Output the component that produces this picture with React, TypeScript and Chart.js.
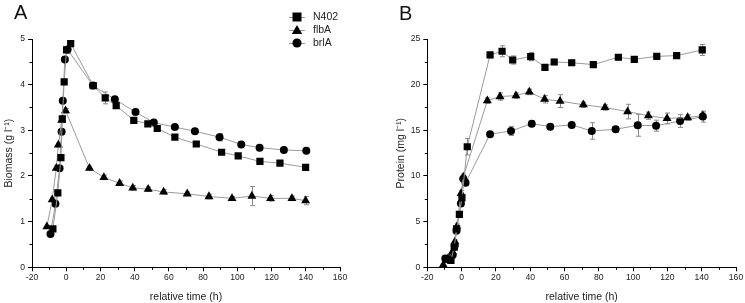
import React, { useEffect, useRef } from "react";
import { Chart, registerables } from "chart.js";

Chart.register(...registerables);

const seriesNames = ["N402", "flbA", "brlA"];
const pointStyles = ["rect", "triangle", "circle"];

// Panel A: biomass (g l-1)
const bioTimeN402 = [-7.8, -4.9, -3.1, -2.3, -1.2, 0.2, 2.6, 15.8, 22.8, 29.2, 39.5, 47.7, 53.2, 63.5, 76.0, 90.8, 100.5, 113.2, 124.9, 139.9];
const bioN402 = [0.84, 1.63, 2.4, 3.25, 4.06, 4.76, 4.9, 3.98, 3.71, 3.54, 3.22, 3.14, 3.04, 2.85, 2.7, 2.52, 2.44, 2.32, 2.28, 2.19];
const bioN402Err = [0.03, 0.04, 0.05, 0.05, 0.05, 0.04, 0.03, 0.05, 0.13, 0.04, 0.04, 0.03, 0.03, 0.04, 0.03, 0.03, 0.03, 0.03, 0.03, 0.03];

const bioTimeFlbA = [-11.3, -8.2, -5.8, -4.6, -2.6, -0.4, 13.6, 22.0, 31.2, 38.9, 47.9, 56.9, 70.7, 83.4, 96.9, 108.5, 119.4, 131.9, 139.9];
const bioFlbA = [0.89, 1.48, 2.17, 2.68, 3.22, 3.43, 2.17, 1.97, 1.84, 1.74, 1.71, 1.65, 1.61, 1.55, 1.51, 1.56, 1.51, 1.51, 1.46];
const bioFlbAErr = [0.03, 0.04, 0.05, 0.04, 0.05, 0.05, 0.04, 0.05, 0.05, 0.05, 0.05, 0.05, 0.04, 0.05, 0.04, 0.21, 0.06, 0.05, 0.09];

const bioTimeBrlA = [-9.2, -6.3, -3.9, -2.7, -2.0, -0.8, 0.8, 15.6, 28.4, 40.5, 51.2, 63.5, 75.2, 89.6, 102.3, 113.0, 127.2, 140.3];
const bioBrlA = [0.73, 1.39, 2.17, 2.97, 3.65, 4.55, 4.77, 3.98, 3.68, 3.4, 3.17, 3.07, 2.98, 2.85, 2.69, 2.62, 2.57, 2.55];
const bioBrlAErr = [0.02, 0.03, 0.04, 0.04, 0.04, 0.04, 0.03, 0.04, 0.04, 0.04, 0.03, 0.04, 0.03, 0.08, 0.03, 0.03, 0.03, 0.04];

// Panel B: protein (mg l-1)
const protTimeN402 = [-9.0, -6.2, -4.3, -2.9, -1.3, 0.2, 3.3, 16.6, 23.6, 29.8, 40.3, 48.6, 54.0, 64.2, 76.8, 91.4, 100.7, 113.8, 125.4, 140.3];
const protN402 = [0.9, 0.75, 2.2, 4.2, 5.8, 7.6, 13.2, 23.25, 23.66, 22.7, 23.07, 21.9, 22.48, 22.4, 22.2, 23.0, 22.78, 23.1, 23.18, 23.8];
const protN402Err = [0.1, 0.1, 0.2, 0.2, 0.3, 0.3, 0.9, 0.3, 0.6, 0.45, 0.45, 0.3, 0.3, 0.3, 0.3, 0.3, 0.3, 0.3, 0.3, 0.6];

const protTimeFlbA = [-10.7, -8.0, -5.3, -3.9, -2.8, -0.3, 1.0, 15.0, 22.4, 31.7, 39.5, 48.4, 57.4, 71.0, 83.6, 96.8, 108.9, 119.8, 131.8, 140.6];
const protFlbA = [0.25, 0.95, 1.7, 2.8, 4.45, 8.1, 9.9, 18.25, 18.7, 18.8, 19.2, 18.4, 18.2, 17.8, 17.5, 17.05, 16.6, 16.3, 16.4, 16.6];
const protFlbAErr = [0.1, 0.1, 0.2, 0.2, 0.3, 0.3, 0.3, 0.3, 0.4, 0.3, 0.3, 0.4, 0.7, 0.3, 0.3, 0.8, 0.4, 0.6, 0.3, 0.4];

const protTimeBrlA = [-9.5, -7.0, -5.2, -4.0, -3.0, -0.4, 1.0, 2.3, 16.6, 28.8, 40.9, 51.7, 64.2, 75.9, 89.8, 102.7, 113.4, 127.4, 140.6];
const protBrlA = [0.95, 0.8, 1.35, 2.4, 4.0, 7.0, 9.7, 9.25, 14.57, 14.93, 15.73, 15.4, 15.59, 14.93, 15.11, 15.55, 15.51, 16.02, 16.5];
const protBrlAErr = [0.1, 0.1, 0.2, 0.2, 0.3, 0.3, 0.3, 0.3, 0.3, 0.5, 0.3, 0.3, 0.3, 0.9, 0.3, 1.2, 0.6, 0.7, 0.6];

const FONT = "'Liberation Sans', Arial, sans-serif";
const LINE_COLOR = "#9a9a9a";
const pointRadii = [5.1, 5.2, 4.0];

function toPoints(xs: number[], ys: number[]) {
  return xs.map((x, i) => ({ x, y: ys[i] }));
}

function makeDatasets(times: number[][], values: number[][], errs: number[][]) {
  return seriesNames.map((name, i) => ({
    label: name,
    data: toPoints(times[i], values[i]),
    errors: errs[i],
    showLine: true,
    borderColor: LINE_COLOR,
    borderWidth: 1,
    backgroundColor: "#000",
    pointBackgroundColor: "#000",
    pointBorderColor: "#000",
    pointBorderWidth: 0,
    pointStyle: pointStyles[i],
    pointRadius: pointRadii[i],
    pointHoverRadius: pointRadii[i],
  }));
}

const errorBarPlugin = {
  id: "errorBars",
  beforeDatasetsDraw(chart: any) {
    const { ctx } = chart;
    const xs = chart.scales.x;
    const ys = chart.scales.y;
    ctx.save();
    ctx.strokeStyle = "#8a8a8a";
    ctx.lineWidth = 1;
    chart.data.datasets.forEach((ds: any) => {
      const errs = ds.errors;
      if (!errs) return;
      ds.data.forEach((p: any, i: number) => {
        const e = errs[i];
        if (!e) return;
        const px = Math.round(xs.getPixelForValue(p.x)) + 0.5;
        const y1 = ys.getPixelForValue(p.y - e);
        const y2 = ys.getPixelForValue(p.y + e);
        ctx.beginPath();
        ctx.moveTo(px, y1);
        ctx.lineTo(px, y2);
        ctx.moveTo(px - 2.5, y1);
        ctx.lineTo(px + 2.5, y1);
        ctx.moveTo(px - 2.5, y2);
        ctx.lineTo(px + 2.5, y2);
        ctx.stroke();
      });
    });
    ctx.restore();
  },
};

const minorTickPlugin = {
  id: "minorTicks",
  afterDraw(chart: any) {
    const { ctx, chartArea } = chart;
    const xs = chart.scales.x;
    const ys = chart.scales.y;
    ctx.save();
    ctx.strokeStyle = "#000";
    ctx.lineWidth = 1;
    ctx.beginPath();
    xs.ticks.forEach((t: any) => {
      if (t.label !== "") return;
      const px = Math.round(xs.getPixelForValue(t.value)) + 0.5;
      ctx.moveTo(px, chartArea.bottom);
      ctx.lineTo(px, chartArea.bottom + 2.5);
    });
    ys.ticks.forEach((t: any) => {
      if (t.label !== "") return;
      const py = Math.round(ys.getPixelForValue(t.value)) + 0.5;
      ctx.moveTo(chartArea.left, py);
      ctx.lineTo(chartArea.left - 2.5, py);
    });
    ctx.stroke();
    ctx.restore();
  },
};

function drawMarker(ctx: CanvasRenderingContext2D, style: string, x: number, y: number) {
  ctx.beginPath();
  if (style === "rect") {
    ctx.rect(x - 4.5, y - 4.5, 9, 9);
  } else if (style === "triangle") {
    ctx.moveTo(x, y - 5);
    ctx.lineTo(x + 5.2, y + 4);
    ctx.lineTo(x - 5.2, y + 4);
    ctx.closePath();
  } else {
    ctx.arc(x, y, 4.6, 0, Math.PI * 2);
  }
  ctx.fill();
}

const lineLegendPlugin = {
  id: "lineLegend",
  afterDraw(chart: any, _args: any, opts: any) {
    if (!opts || !opts.show) return;
    const { ctx, chartArea } = chart;
    const x0 = chartArea.right - 51;
    const y0 = chartArea.top - 22;
    ctx.save();
    chart.data.datasets.forEach((ds: any, i: number) => {
      const y = y0 + i * 13;
      ctx.strokeStyle = LINE_COLOR;
      ctx.lineWidth = 1;
      ctx.beginPath();
      ctx.moveTo(x0, y + 0.5);
      ctx.lineTo(x0 + 16, y + 0.5);
      ctx.stroke();
      ctx.fillStyle = "#000";
      drawMarker(ctx, ds.pointStyle, x0 + 8, y);
      ctx.fillStyle = "#222";
      ctx.font = `10.5px ${FONT}`;
      ctx.textBaseline = "middle";
      ctx.textAlign = "left";
      ctx.fillText(ds.label, x0 + 24, y + 0.5);
    });
    ctx.restore();
  },
};

function makeConfig(opts: {
  datasets: any[];
  yMax: number;
  yStep: number;
  yMajor: number;
  yTitle: string;
  yAxisWidth: number;
  yTitlePad: number;
  rightPad: number;
  legend: boolean;
}): any {
  const tickFont = { family: FONT, size: 8.6 };
  const titleFont = { family: FONT, size: 10.5 };
  return {
    type: "scatter",
    data: { datasets: opts.datasets },
    plugins: [errorBarPlugin, minorTickPlugin, lineLegendPlugin],
    options: {
      animation: false,
      responsive: false,
      maintainAspectRatio: false,
      events: [],
      layout: { padding: { top: 39, right: opts.rightPad, left: 0, bottom: 0 } },
      plugins: {
        legend: { display: false },
        tooltip: { enabled: false },
        lineLegend: { show: opts.legend },
      },
      scales: {
        x: {
          type: "linear",
          min: -20,
          max: 160,
          ticks: {
            stepSize: 10,
            autoSkip: false,
            maxRotation: 0,
            padding: 1,
            color: "#222",
            font: tickFont,
            callback: (v: number) => (v % 20 === 0 ? String(v) : ""),
          },
          grid: {
            drawOnChartArea: false,
            drawTicks: true,
            tickLength: 4,
            tickWidth: 1,
            tickColor: (c: any) => (c.tick && c.tick.label === "" ? "rgba(0,0,0,0)" : "#000"),
          },
          border: { display: true, color: "#000", width: 1 },
          title: {
            display: true,
            text: "relative time (h)",
            color: "#222",
            font: titleFont,
            padding: { top: 0, bottom: 0 },
          },
          afterFit: (s: any) => {
            s.height = 35.7;
          },
        },
        y: {
          type: "linear",
          min: 0,
          max: opts.yMax,
          ticks: {
            stepSize: opts.yStep,
            autoSkip: false,
            padding: 3,
            color: "#222",
            font: tickFont,
            callback: (v: number) => (Math.abs(v % opts.yMajor) < 1e-9 ? String(v) : ""),
          },
          grid: {
            drawOnChartArea: false,
            drawTicks: true,
            tickLength: 4,
            tickWidth: 1,
            tickColor: (c: any) => (c.tick && c.tick.label === "" ? "rgba(0,0,0,0)" : "#000"),
          },
          border: { display: true, color: "#000", width: 1 },
          title: {
            display: true,
            text: opts.yTitle,
            color: "#222",
            font: titleFont,
            padding: { top: opts.yTitlePad, bottom: 0 },
          },
          afterFit: (s: any) => {
            s.width = opts.yAxisWidth;
          },
        },
      },
    },
  };
}

function ChartCanvas({ config, width, height, left }: { config: () => any; width: number; height: number; left: number }) {
  const ref = useRef<HTMLCanvasElement | null>(null);
  useEffect(() => {
    if (!ref.current) return;
    const chart = new Chart(ref.current, config());
    return () => chart.destroy();
  }, []);
  return (
    <canvas
      ref={ref}
      width={width}
      height={height}
      style={{ position: "absolute", left, top: 0, width, height }}
    />
  );
}

export default function App() {
  const leftConfig = () =>
    makeConfig({
      datasets: makeDatasets(
        [bioTimeN402, bioTimeFlbA, bioTimeBrlA],
        [bioN402, bioFlbA, bioBrlA],
        [bioN402Err, bioFlbAErr, bioBrlAErr]
      ),
      yMax: 5,
      yStep: 0.5,
      yMajor: 1,
      yTitle: "Biomass (g l\u207B\u00B9)",
      yAxisWidth: 32,
      yTitlePad: 3,
      rightPad: 32,
      legend: true,
    });
  const rightConfig = () =>
    makeConfig({
      datasets: makeDatasets(
        [protTimeN402, protTimeFlbA, protTimeBrlA],
        [protN402, protFlbA, protBrlA],
        [protN402Err, protFlbAErr, protBrlAErr]
      ),
      yMax: 25,
      yStep: 2.5,
      yMajor: 5,
      yTitle: "Protein (mg l\u207B\u00B9)",
      yAxisWidth: 55.3,
      yTitlePad: 22.7,
      rightPad: 9,
      legend: false,
    });
  const letter: React.CSSProperties = {
    position: "absolute",
    fontFamily: FONT,
    fontSize: 20,
    lineHeight: "20px",
    color: "#111",
  };
  return (
    <div style={{ position: "fixed", left: 0, top: 0, width: 745, height: 303, background: "#fff", overflow: "hidden" }}>
      <ChartCanvas config={leftConfig} width={372} height={303} left={0} />
      <ChartCanvas config={rightConfig} width={373} height={303} left={372} />
      <div style={{ ...letter, left: 14, top: 2 }}>A</div>
      <div style={{ ...letter, left: 399, top: 3 }}>B</div>
    </div>
  );
}
